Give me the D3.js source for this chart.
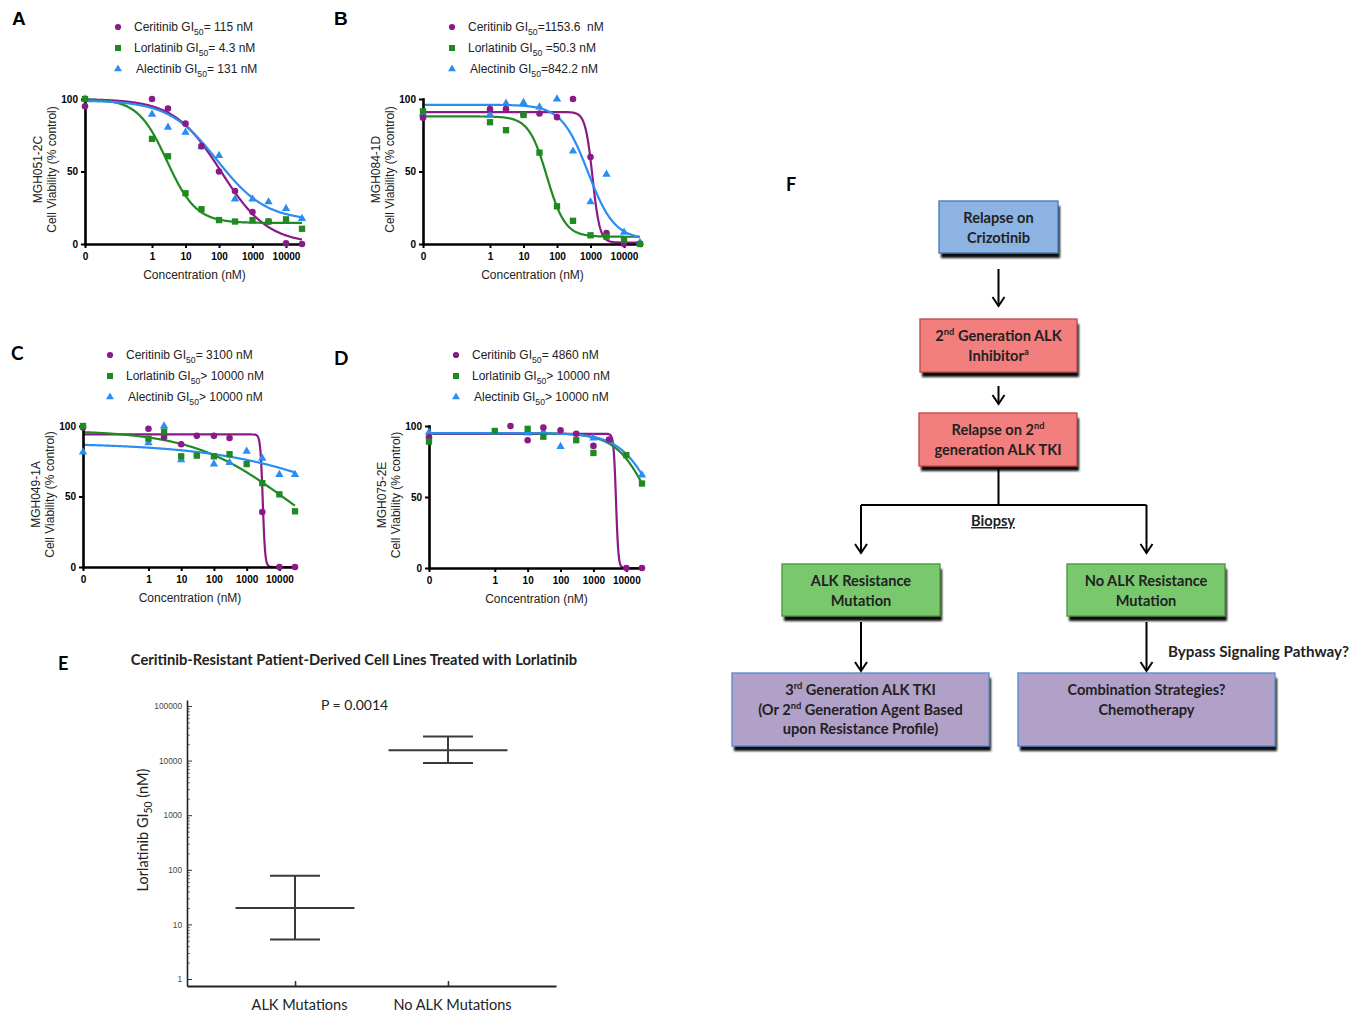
<!DOCTYPE html>
<html><head><meta charset="utf-8">
<script src="https://cdn.jsdelivr.net/npm/d3@7"></script>
<style>body{margin:0;background:#fff} svg{display:block} text{white-space:pre}</style>
</head><body>
<svg id="fig" width="1363" height="1015"></svg>
<script>
// ================= DATA =================
const concentrations = [0, 1, 3, 10, 30, 100, 300, 1000, 3000, 10000, 30000];
const xTickValues = [0, 1, 10, 100, 1000, 10000];
const xTickLabels = ["0", "1", "10", "100", "1000", "10000"];
const yTickValues = [0, 50, 100];
const drugs = ["Ceritinib", "Lorlatinib", "Alectinib"];
const panelLetters = ["A", "B", "C", "D"];
const cellLines = ["MGH051-2C", "MGH084-1D", "MGH049-1A", "MGH075-2E"];
const gi50Text = [
  ["= 115 nM", "= 4.3 nM", "= 131 nM"],
  ["=1153.6  nM", " =50.3 nM", "=842.2 nM"],
  ["= 3100 nM", "> 10000 nM", "> 10000 nM"],
  ["= 4860 nM", "> 10000 nM", "> 10000 nM"]
];

// % viability per concentration (null = not visible)
const ceritinibA  = [95, 100, 93.5, 83, 67.5, 50, 36.5, 22, 15.5, 0.5, 0];
const lorlatinibA = [100, 72.5, 60.5, 35, 24, 16.5, 15.5, 16.5, 15.5, 17, 10.5];
const alectinibA  = [100, 89.5, 80.5, 77, 67, 61, 31, 31, 29, 24.5, 17.5];

const ceritinibB  = [87, 93, 93, 89.5, 90, 87.5, 100, 60, 7.5, 0, 0];
const lorlatinibB = [91.5, 84, 78.5, 89, 63, 26, 16, 6, 5, 3, 0];
const alectinibB  = [90, 89.5, 97, 97.5, 94.5, 100, 64, 29, 48, 8, 1];

const ceritinibC  = [99, 98, 92, 87, 93, 93, 91.5, null, 39, 0, 0];
const lorlatinibC = [100, 91, 96, 78.5, 79, 78.5, 80, 73, 59.5, 51.5, 39.5];
const alectinibC  = [81.5, 88, 100, 76, null, 73, 74, 82, 77, 65.5, 65.5];

const ceritinibD  = [92, null, 100, 90, 99, 97, 94.5, 86, 90.5, 0, 0];
const lorlatinibD = [89, 96.5, null, 98, 92.5, null, 90, 81, null, 79.5, 59.5];
const alectinibD  = [95.5, 95.5, null, 95, 96, 85.5, null, 91.5, 89.5, null, 65.5];

// fitted dose-response parameters: [top, bottom, GI50, hill]
const fitCeritinibA = [100, 0, 115, 0.62];
const fitLorlatinibA = [100, 14.5, 2.8, 1.0];
const fitAlectinibA = [99, 16, 90, 0.6];
const fitCeritinibB = [91, 1, 1150, 4];
const fitLorlatinibB = [88, 5, 50, 1.6];
const fitAlectinibB = [96, 3, 842, 1.1];
const fitCeritinibC = [94, 0, 3100, 12];
const fitLorlatinibC = [97, 0, 15000, 0.3];
const fitAlectinibC = [88, 0, 1e7, 0.2];
const fitCeritinibD = [94.5, 0, 4860, 12];
const fitLorlatinibD = [95, 0, 55000, 0.85];
const fitAlectinibD = [95, 0, 83000, 0.8];

// Panel E
const eCategories = ["ALK Mutations", "No ALK Mutations"];
const eMedian = [20, 15400];
const eLower = [5.3, 9000];
const eUpper = [78, 27700];
const eTickValues = [1, 10, 100, 1000, 10000, 100000];
const eTitle = "Ceritinib-Resistant Patient-Derived Cell Lines Treated with Lorlatinib";
const ePText = "P = 0.0014";

// Panel F (flowchart)
const flowText = [
  ["Relapse on", "Crizotinib"],
  ["2^{nd} Generation ALK", "Inhibitor^{a}"],
  ["Relapse on 2^{nd}", "generation ALK TKI"],
  ["ALK Resistance", "Mutation"],
  ["No ALK Resistance", "Mutation"],
  ["3^{rd} Generation ALK TKI", "(Or 2^{nd} Generation Agent Based", "upon Resistance Profile)"],
  ["Combination Strategies?", "Chemotherapy"]
];
const flowKinds = ["blue", "red", "red", "green", "green", "purple", "purple"];
const biopsyText = "Biopsy";
const bypassText = "Bypass Signaling Pathway?";

// ================= DRAW =================
const svg = d3.select("#fig");
const ARIAL = "'Liberation Sans', Arial, sans-serif";
const CAL = "Lato, 'Open Sans', sans-serif";
const colors = { Ceritinib: "#8a1a88", Lorlatinib: "#1f8a22", Alectinib: "#2a8df2" };
const symbols = { Ceritinib: d3.symbolCircle, Lorlatinib: d3.symbolSquare, Alectinib: d3.symbolTriangle };
const symSize = { Ceritinib: 34, Lorlatinib: 40, Alectinib: 30 };

function rich(sel, str, size) {
  const re = /\^\{([^}]*)\}|_\{([^}]*)\}|([^^_]+)/g;
  let m, shift = 0;
  while ((m = re.exec(str))) {
    if (m[1] !== undefined) {
      const s = -size * 0.38;
      sel.append("tspan").attr("font-size", size * 0.64).attr("dy", s - shift).text(m[1]); shift = s;
    } else if (m[2] !== undefined) {
      const s = size * 0.3;
      sel.append("tspan").attr("font-size", size * 0.72).attr("dy", s - shift).text(m[2]); shift = s;
    } else {
      sel.append("tspan").attr("dy", -shift).text(m[3]); shift = 0;
    }
  }
}

const panelData = [
  [ceritinibA, lorlatinibA, alectinibA], [ceritinibB, lorlatinibB, alectinibB],
  [ceritinibC, lorlatinibC, alectinibC], [ceritinibD, lorlatinibD, alectinibD]
];
const panelFits = [
  [fitCeritinibA, fitLorlatinibA, fitAlectinibA], [fitCeritinibB, fitLorlatinibB, fitAlectinibB],
  [fitCeritinibC, fitLorlatinibC, fitAlectinibC], [fitCeritinibD, fitLorlatinibD, fitAlectinibD]
];
// layout of the four dose-response panels
const panelLayout = [
  { x0: 85, x1: 302, y0: 244, y1: 99, lx: 118, ly: 27, ltx: 12, lty: 25, lfont: ARIAL },
  { x0: 423, x1: 640, y0: 244, y1: 99, lx: 452, ly: 27, ltx: 334, lty: 25, lfont: ARIAL },
  { x0: 83, x1: 295, y0: 567, y1: 426, lx: 110, ly: 355, ltx: 11, lty: 360, lfont: CAL },
  { x0: 429, x1: 642, y0: 568, y1: 426, lx: 456, ly: 355, ltx: 334, lty: 365, lfont: CAL }
];

const ZERO = 0.01;
panelData.forEach((data, pi) => {
  const L = panelLayout[pi];
  const g = svg.append("g");
  const x = d3.scaleLog().domain([ZERO, 30000]).range([L.x0, L.x1]);
  const y = d3.scaleLinear().domain([0, 100]).range([L.y0, L.y1]);
  const xc = c => x(c === 0 ? ZERO : c);

  // panel letter
  g.append("text").attr("x", L.ltx).attr("y", L.lty).attr("font-family", L.lfont)
    .attr("font-weight", "bold").attr("font-size", 19).text(panelLetters[pi]);

  // legend
  drugs.forEach((dname, k) => {
    const yy = L.ly + k * 21;
    g.append("path").attr("d", d3.symbol(symbols[dname], symSize[dname] * 0.9)())
      .attr("transform", `translate(${L.lx},${yy})`).attr("fill", colors[dname]);
    const t = g.append("text").attr("x", L.lx + 16 + (k === 2 ? 2 : 0)).attr("y", yy + 4)
      .attr("font-family", ARIAL).attr("font-size", 12).attr("fill", "#222");
    rich(t, dname + " GI_{50}" + gi50Text[pi][k], 12);
  });

  // fitted curves
  const n = 400, lo = Math.log10(ZERO), hi = Math.log10(30000);
  const xs = d3.range(n + 1).map(i => Math.pow(10, lo + (hi - lo) * i / n));
  panelFits[pi].forEach((f, k) => {
    const line = d3.line().x(d => x(d)).y(d => y(f[1] + (f[0] - f[1]) / (1 + Math.pow(d / f[2], f[3]))));
    g.append("path").datum(xs).attr("d", line).attr("fill", "none")
      .attr("stroke", colors[drugs[k]]).attr("stroke-width", 2.2);
  });

  // axes
  const ax = g.append("g").attr("transform", `translate(0,${L.y0})`)
    .call(d3.axisBottom(x).tickValues(xTickValues.map(v => v === 0 ? ZERO : v))
      .tickFormat((d, i) => xTickLabels[i]).tickSize(4).tickSizeOuter(0).tickPadding(5));
  const ay = g.append("g").attr("transform", `translate(${L.x0},0)`)
    .call(d3.axisLeft(y).tickValues(yTickValues).tickSize(4).tickSizeOuter(0).tickPadding(3));
  [ax, ay].forEach(a => {
    a.select(".domain").attr("stroke", "#000").attr("stroke-width", 2.6).attr("stroke-linecap", "square");
    a.selectAll(".tick line").attr("stroke", "#000").attr("stroke-width", 2);
    a.selectAll(".tick text").attr("font-family", ARIAL).attr("font-weight", "bold")
      .attr("font-size", 10).attr("fill", "#000");
  });

  // points (blue, purple, green order)
  [2, 0, 1].forEach(k => {
    const dname = drugs[k];
    const pts = concentrations.map((c, i) => ({ c, v: data[k][i] })).filter(d => d.v !== null);
    g.selectAll(null).data(pts).enter().append("path")
      .attr("d", d3.symbol(symbols[dname], symSize[dname])())
      .attr("transform", d => `translate(${xc(d.c)},${y(d.v)})`)
      .attr("fill", colors[dname]);
  });

  // axis titles
  const cy = (L.y0 + L.y1) / 2 - 2;
  const yl = g.append("text").attr("transform", `translate(${L.x0 - 43},${cy}) rotate(-90)`)
    .attr("text-anchor", "middle").attr("font-family", ARIAL).attr("font-size", 12).attr("fill", "#222");
  yl.append("tspan").attr("x", 0).attr("dy", 0).text(cellLines[pi]);
  yl.append("tspan").attr("x", 0).attr("dy", 14).text("Cell Viability (% control)");
  g.append("text").attr("x", (L.x0 + L.x1) / 2 + 1).attr("y", L.y0 + 35)
    .attr("text-anchor", "middle").attr("font-family", ARIAL).attr("font-size", 12)
    .attr("fill", "#222").text("Concentration (nM)");
});

// ================= PANEL E =================
(function () {
  const g = svg.append("g");
  const y = d3.scaleLog().domain([1, 100000]).range([979, 706]);
  const yAxisScale = d3.scaleLog().domain([y.invert(986), y.invert(700)]).range([986, 700]);
  const x = d3.scalePoint().domain(eCategories).range([187, 556]).padding(0.706);

  g.append("text").attr("x", 58).attr("y", 670).attr("font-family", CAL).attr("font-weight", "bold")
    .attr("font-size", 18).text("E");
  g.append("text").attr("x", 354).attr("y", 665).attr("text-anchor", "middle").attr("font-family", CAL)
    .attr("font-weight", "bold").attr("font-size", 14.7).attr("fill", "#222").text(eTitle);
  g.append("text").attr("x", 321).attr("y", 710).attr("font-family", CAL)
    .attr("font-size", 14).attr("fill", "#222").text(ePText);

  // y axis: major + minor ticks pointing inward
  const minor = y.ticks().filter(v => eTickValues.indexOf(v) < 0);
  const ayMinor = g.append("g").attr("transform", "translate(187,0)")
    .call(d3.axisLeft(y).tickValues(minor).tickSize(-3).tickFormat(""));
  ayMinor.select(".domain").remove();
  ayMinor.selectAll(".tick line").attr("stroke", "#555").attr("stroke-width", 0.8);
  const ay = g.append("g").attr("transform", "translate(187,0)")
    .call(d3.axisLeft(yAxisScale).tickValues(eTickValues).tickSize(-5).tickSizeOuter(0)
      .tickPadding(5).tickFormat(d3.format("d")));
  ay.select(".domain").attr("stroke", "#222").attr("stroke-width", 1.6);
  ay.selectAll(".tick line").attr("stroke", "#333").attr("stroke-width", 1);
  ay.selectAll(".tick text").attr("font-family", ARIAL).attr("font-size", 8.3).attr("fill", "#444");

  const axX = g.append("g").attr("transform", "translate(0,986)")
    .call(d3.axisBottom(x).tickSize(-5).tickSizeOuter(0).tickPadding(14));
  axX.select(".domain").attr("stroke", "#222").attr("stroke-width", 2);
  axX.selectAll(".tick line").attr("stroke", "#333").attr("stroke-width", 1.6);
  axX.selectAll(".tick text").attr("font-family", CAL).attr("font-size", 14.5).attr("fill", "#222")
    .attr("dx", 4);

  const yt = g.append("text").attr("transform", "translate(148,830) rotate(-90)")
    .attr("text-anchor", "middle").attr("font-family", CAL).attr("font-size", 14.5).attr("fill", "#222");
  rich(yt, "Lorlatinib GI_{50} (nM)", 14.5);

  // median + range bars
  eCategories.forEach((c, i) => {
    const cx = x(c);
    const ln = (x1, y1, x2, y2) => g.append("line").attr("x1", x1).attr("y1", y1).attr("x2", x2).attr("y2", y2)
      .attr("stroke", "#3a3a3a").attr("stroke-width", 2);
    ln(cx - 59.5, y(eMedian[i]), cx + 59.5, y(eMedian[i]));
    ln(cx, y(eLower[i]), cx, y(eUpper[i]));
    ln(cx - 25, y(eLower[i]), cx + 25, y(eLower[i]));
    ln(cx - 25, y(eUpper[i]), cx + 25, y(eUpper[i]));
  });
})();

// ================= PANEL F =================
(function () {
  const g = svg.append("g");
  const defs = svg.append("defs");
  defs.append("filter").attr("id", "shadow").attr("x", "-10%").attr("y", "-10%")
    .attr("width", "130%").attr("height", "140%")
    .append("feGaussianBlur").attr("stdDeviation", 1.3);
  const fill = { blue: "#8db3e2", red: "#f27f7d", green: "#79c86d", purple: "#b1a0c8" };
  const stroke = { blue: "#4a7ebb", red: "#c0504d", green: "#4f9a3c", purple: "#5b8fd0" };
  // box geometry [x, y, w, h]
  const boxes = [[939, 201, 119, 52], [920, 319, 157, 53], [919, 413, 158, 53], [782, 564, 158, 52],
                 [1067, 564, 158, 52], [732, 673, 257, 73], [1018, 673, 257, 73]];

  g.append("text").attr("x", 786).attr("y", 191).attr("font-family", CAL).attr("font-weight", "bold")
    .attr("font-size", 18).text("F");

  boxes.forEach((b, i) => {
    g.append("rect").attr("x", b[0] + 2).attr("y", b[1] + 5).attr("width", b[2]).attr("height", b[3])
      .attr("fill", "#0a0a0a").attr("filter", "url(#shadow)");
    g.append("rect").attr("x", b[0]).attr("y", b[1]).attr("width", b[2]).attr("height", b[3])
      .attr("fill", fill[flowKinds[i]]).attr("stroke", stroke[flowKinds[i]]).attr("stroke-width", 1.4);
    flowText[i].forEach((ln, j) => {
      const t = g.append("text").attr("x", b[0] + b[2] / 2).attr("y", b[1] + 22 + j * 19.7)
        .attr("text-anchor", "middle").attr("font-family", CAL).attr("font-weight", "bold")
        .attr("font-size", 14.6).attr("fill", "#222");
      rich(t, ln, 14.6);
    });
  });

  const lineAttrs = s => s.attr("stroke", "#000").attr("stroke-width", 2).attr("fill", "none");
  const arrow = (x, y1, y2) => {
    lineAttrs(g.append("path").attr("d", `M${x},${y1}V${y2}`));
    lineAttrs(g.append("path").attr("d", `M${x - 6},${y2 - 9}L${x},${y2}L${x + 6},${y2 - 9}`));
  };
  const cx1 = 998.5, cl = 861, cr = 1146.5;
  arrow(cx1, 269, 306);
  arrow(cx1, 386, 404);
  lineAttrs(g.append("path").attr("d", `M${cx1},468V505H${cl}M${cx1},505H${cr}`));
  arrow(cl, 505, 553);
  arrow(cr, 505, 553);
  arrow(cl, 622, 671);
  arrow(cr, 622, 671);

  g.append("text").attr("x", 993).attr("y", 526).attr("text-anchor", "middle").attr("font-family", CAL)
    .attr("font-weight", "bold").attr("font-size", 14.6).attr("fill", "#222")
    .attr("text-decoration", "underline").text(biopsyText);
  g.append("text").attr("x", 1168).attr("y", 657).attr("font-family", CAL)
    .attr("font-weight", "bold").attr("font-size", 15.2).attr("fill", "#222").text(bypassText);
})();
</script>
</body></html>
